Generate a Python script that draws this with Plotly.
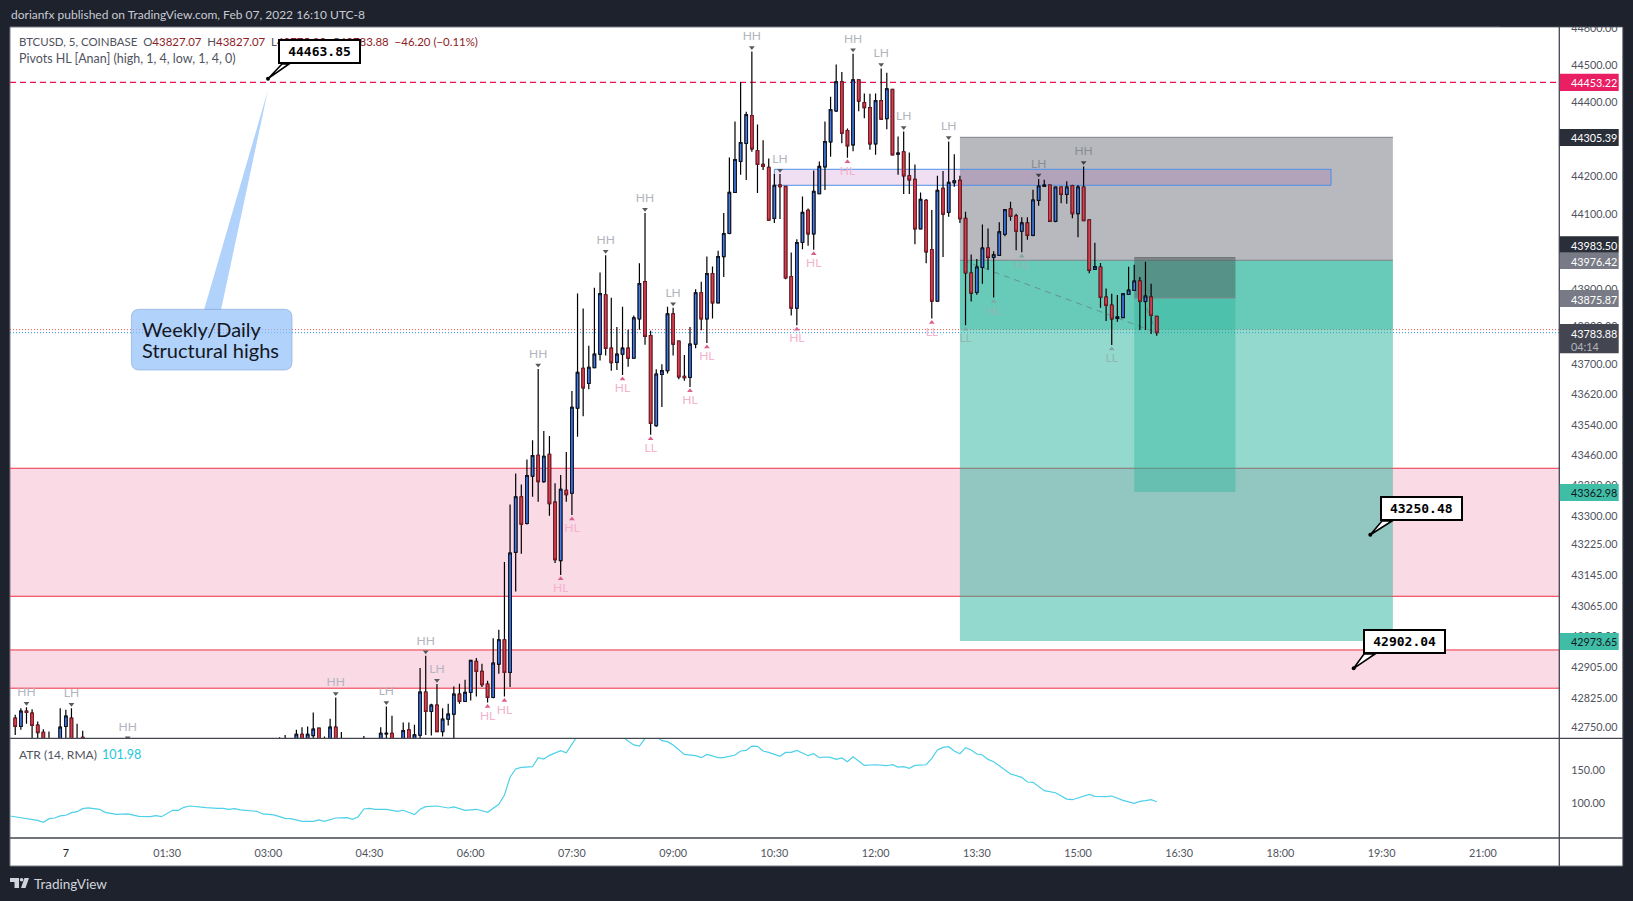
import numpy as np
import pandas as pd
import plotly.graph_objects as go
import plotly.subplots as sp

# ---------------------------------------- data ----------------------------------------
bar_numbers = [-9, -8, -7, -6, -5, -4, -3, -1, 0, 1, 2, 3, 5, 11, 38, 39, 41, 42, 43, 44, 45, 46, 47, 48, 49,
               53, 56, 57, 58, 60, 61, 62] + list(range(63, 195))

open_prices = [42772.8, 42751.2, 42791, 42785.8, 42754.6, 42736.4, 42712, 42700, 42751.2, 42772.8, 42715, 42723.4, 42660, 42680,
    42700, 42700, 42700, 42731.2, 42700, 42727.7, 42746.8, 42715, 42700, 42749.4, 42715, 42715, 42700, 42732, 42733.8, 42700, 42742.5, 42700,
    42728.6, 42840.4, 42790.2, 42806.6, 42738.1, 42770.2, 42783.2, 42835.2, 42816.2, 42839.5, 42920.2, 42894.2, 42861.2, 42826.5, 42913.2, 42976.5, 42891.5, 43205,
    43350.5, 43280.4, 43404.9, 43459.9, 43390.4, 43462.5, 43336.3, 43183.2, 43367.8, 43359.9,
    43584, 43689.3, 43649.2, 43691.1, 43726.8, 43884.7, 43742.9, 43705.4, 43726.8, 43742.9,
    43716.1, 43820.5, 43919.5, 43775.9, 43537.7, 43673.3, 43683.1, 43833.8, 43761.6, 43667.9,
    43665.3, 43753.6, 43890, 43820.5, 43940.9, 43863.3, 43986.4, 44047.9, 44157.6, 44240.6,
    44288.8, 44363.7, 44270, 44232.6, 44224.5, 44088.1, 44177.3, 44173.7, 43932.9, 43849,
    44023.8, 44109.5, 44047, 44154.1, 44226.3, 44293.2, 44376.2, 44454.7, 44323.6, 44285.2,
    44460, 44398.5, 44385.1, 44287.9, 44403.8, 44355.7, 44434.2, 44260.2, 44266.5, 44202.2,
    44192.4, 44060.4, 44136.2, 44005.1, 43867.7, 44168.3, 44104.1, 44183.5, 44189.8, 44088.1,
    43942.5, 43890.9, 43957.6, 44009.2, 43984.3, 43989.7, 44045.8, 44113.4, 44094.7, 44053.8,
    44076, 44043.1, 44136.5, 44173.9, 44177.5, 44080.5, 44172.1, 44152.5, 44175.7, 44100.9,
    44172.1, 44084, 43952.3, 43958.5, 43878.4, 43857.1, 43821.5, 43824.1, 43885.5, 43896.2,
    43921.1, 43866.9, 43878.4, 43827.07]

high_prices = [42781.5, 42798.8, 42801.4, 42796.2, 42764.2, 42744.2, 42738, 42798.8, 42794.5, 42798.8, 42758.1, 42740, 42673, 42712,
    42723.4, 42729.5, 42742.5, 42749.4, 42751.2, 42787.5, 42747.7, 42725.2, 42771, 42826.5, 42737.3, 42726.9, 42749.4, 42803.2, 42778.9, 42761.6, 42761.6, 42755.5,
    42902.8, 42934.9, 42810.1, 42861.2, 42798.8, 42810.1, 42855.1, 42862.1, 42872.5, 42924.5, 42928.8, 42914.1, 42870, 42980.8, 43002.5, 43179.5, 43330.3, 43411.9,
    43383, 43448.5, 43499.7, 43687.7, 43523.9, 43510.7, 43386, 43408, 43468.5, 43629.5,
    43888.3, 43848.1, 43749.1, 43903.4, 43943.6, 43990, 43876.7, 43799, 43852.6, 43791.9,
    43829.4, 43968.5, 44102.3, 43789.2, 43686.7, 43700, 43852.6, 43849.9, 43762.5, 43725,
    43799, 43899, 43919.5, 43986.4, 43959.6, 44001.5, 44102.3, 44251.3, 44347.6, 44453.8,
    44374.4, 44536.7, 44339.6, 44297.7, 44248.6, 44206.7, 44206.7, 44175.5, 43997.1, 44032.8,
    44147, 44114.8, 44216.5, 44240.6, 44347.6, 44414.5, 44501.1, 44481.4, 44328.9, 44530.5,
    44460, 44423.4, 44422.6, 44423.4, 44490.4, 44478.8, 44436, 44307.5, 44320.9, 44264.7,
    44232.6, 44157.6, 44139.8, 44110.4, 44202.2, 44214.7, 44294.1, 44260.2, 44202.2, 44105.9,
    43991.5, 43979.9, 44071.6, 44060.9, 44000.4, 44077.8, 44113.4, 44133, 44100.9, 44091.1,
    44091.1, 44165, 44193.5, 44191.7, 44178.4, 44172.1, 44172.1, 44187.3, 44178.4, 44177.5,
    44227.3, 44084.9, 44023.5, 43969.2, 43901.6, 43887.3, 43883.8, 43889.1, 43959.4, 43964.8,
    43931.8, 43972.8, 43914, 43827.07]

low_prices = [42729.5, 42742.5, 42758.1, 42710, 42705, 42700, 42690, 42690, 42712, 42690, 42690, 42700, 42640, 42670,
    42690, 42690, 42690, 42690, 42690, 42700, 42690, 42690, 42690, 42690, 42690, 42690, 42690, 42690, 42690, 42690, 42690, 42690,
    42715, 42729.5, 42727.7, 42738.1, 42725.2, 42753.8, 42712, 42810.1, 42816.2, 42818.7, 42829.1, 42853.4, 42813.5, 42824.8, 42888.1, 42829.1, 42853.4, 43102.4,
    43201.5, 43277.7, 43350.5, 43337.8, 43387.8, 43301.1, 43177.2, 43145.8, 43337.8, 43302.9,
    43508.3, 43562.7, 43634, 43691.1, 43709.9, 43723.2, 43683.1, 43684.9, 43671.5, 43693.8,
    43716.1, 43791.9, 43751.8, 43513.7, 43535, 43586.8, 43676, 43723.2, 43660.8, 43656.3,
    43640.3, 43742.9, 43790.1, 43756.2, 43821.4, 43861.5, 43932, 44046.1, 44155.9, 44204.9,
    44190.6, 44266.5, 44155.9, 44217.4, 44081.8, 44075.6, 44086.3, 43925.7, 43829.4, 43803.5,
    44006, 44014.9, 44004.2, 44153.2, 44163.9, 44253.1, 44373.5, 44289.7, 44250.4, 44268.2,
    44375.3, 44356.6, 44271.8, 44258.4, 44352.1, 44327.1, 44258.4, 44204.9, 44153.2, 44153.2,
    44019.4, 44060.4, 43968.5, 43821.4, 43867.7, 43985.5, 44092.5, 44172.8, 44075.6, 43803.5,
    43866.9, 43884.7, 43914, 43951.4, 43877.5, 43989.7, 44040.4, 44082.2, 44003, 43997.7,
    44031.5, 44040.4, 44122.3, 44173.9, 44080.5, 44077.8, 44128.5, 44127.6, 44088.5, 44037.7,
    44080.5, 43941.6, 43952.3, 43849.9, 43815.2, 43751.2, 43812.6, 43824.1, 43885.5, 43896.2,
    43791.2, 43791.2, 43780.5, 43775.90]

close_prices = [42751.2, 42791, 42787.5, 42753.8, 42735.5, 42710, 42700, 42749.4, 42778, 42700, 42700, 42714, 42650, 42700,
    42712, 42712, 42731.2, 42700, 42731.2, 42744.2, 42700, 42700, 42749.4, 42700, 42700, 42700, 42733.8, 42733.8, 42700, 42740.7, 42700, 42729.5,
    42840.4, 42790.2, 42806.6, 42738.1, 42770.2, 42783.2, 42835.2, 42816.2, 42839.5, 42922.8, 42894.2, 42859.5, 42826.5, 42915.8, 42976.5, 42891.5, 43203.2, 43350.5,
    43278.6, 43406.6, 43459.1, 43390.4, 43457.2, 43332.6, 43185.8, 43370.4, 43356.2, 43586.4,
    43678.6, 43637.6, 43692, 43726.8, 43887.4, 43742, 43704.5, 43726.8, 43742.9, 43716.1,
    43823.1, 43914.1, 43774.1, 43544, 43674.2, 43683.1, 43833.8, 43753.6, 43667, 43664.4,
    43753.6, 43890, 43820.5, 43940.9, 43863.3, 43986.4, 44047.9, 44157.6, 44245.9, 44291.4,
    44366.4, 44274.5, 44232.6, 44227.2, 44083.6, 44176.4, 44172.8, 43929.3, 43849, 44023.8,
    44104.1, 44047, 44160.3, 44227.2, 44294.1, 44379.8, 44454.7, 44316.4, 44282.5, 44460,
    44402.9, 44385.1, 44287.9, 44403.8, 44353.9, 44436, 44258.4, 44262.9, 44202.2, 44191.5,
    44060.4, 44138.9, 43998.9, 43867.7, 44163, 44099.7, 44184.4, 44188.9, 44087.2, 43942.7,
    43889.1, 43958.5, 44009.2, 43984.3, 43991.5, 44052, 44111.6, 44093.8, 44053.8, 44076,
    44043.1, 44137.4, 44174.8, 44177.5, 44080.5, 44172.1, 44152.5, 44172.1, 44100.9, 44172.1,
    44082.2, 43949.6, 43959.4, 43877.5, 43856.2, 43820.6, 43825.9, 43887.3, 43897.1, 43921.1,
    43866.9, 43881.1, 43829.5, 43783.88]

# pivots: bar number and name, the price comes from the bar itself
pivot_high_bars = [-7, 1, 5, 11, 48, 57, 64, 66, 84, 96, 103, 108, 122, 127, 140, 145, 149, 157, 173, 181]
pivot_high_names = ["HH", "LH", "HH", "HH", "HH", "LH", "HH", "LH", "HH", "HH", "HH", "LH", "HH", "LH", "HH", "LH", "LH", "LH", "LH", "HH"]
pivot_high_dim = [0, 0, 0, 0, 0, 0, 0, 0, 0, 0, 0, 0, 0, 0, 0, 0, 0, 0, 1, 1]
pivot_low_bars = [75, 78, 88, 90, 99, 104, 111, 114, 130, 133, 139, 154, 160, 165, 170, 186]
pivot_low_names = ["HL", "HL", "HL", "HL", "HL", "LL", "HL", "HL", "HL", "HL", "HL", "LL", "LL", "HL", "HL", "LL"]
pivot_low_dim = [0, 0, 0, 0, 0, 0, 0, 0, 0, 0, 0, 0, 1, 1, 1, 1]

atr_bars = [-10, -7, -5, -4, -3, -2, -1, 0, 1, 2, 3, 4, 6, 7, 9, 11, 13, 15, 16, 17, 18, 19, 20, 21, 22, 24, 25, 27, 28, 29,
    30, 31, 34, 35, 37, 39, 40, 42, 44, 45, 46, 48, 50, 51, 52, 53, 54, 55, 57, 59, 60, 62, 63, 64, 66, 68, 69, 71, 73, 75,
    76, 77, 78, 79, 80, 81, 83, 84, 85, 86, 88, 89, 91, 93, 95, 97, 99, 101, 102, 103, 104, 105, 106, 107, 108, 110, 112, 113, 114,
    116, 117, 119, 120, 121, 122, 123, 124, 125, 127, 128, 129, 130, 132, 133, 134, 135, 136, 137, 138, 139, 140, 142, 144,
    146, 147, 148, 149, 150, 151, 153, 154, 155, 156, 157, 158, 159, 160, 161, 162, 163, 164, 165, 166, 168, 170, 171, 172,
    174, 176, 178, 179, 182, 183, 185, 186, 188, 190, 191, 192, 193, 194]
atr_values = [80.4, 75.8, 73.8, 70.8, 76.3, 77.3, 80.4, 81.4, 85.4, 86.9, 91.5, 92.5, 90.5, 85.9, 82.9, 83.4, 79.8, 79.3, 80.9, 79.3,
    84.4, 89, 89, 93.5, 95.5, 93.5, 93, 92, 92, 90.5,
    91.5, 89.5, 87.4, 83.4, 81.9, 76.8, 76.3, 72.3, 72.3, 74.3, 72.3, 77.3, 77.8, 75.3, 79.3, 91, 92, 90.5, 90.5, 87.4,
    89, 82.4, 90.5, 94.5, 95.5, 92.5, 94, 89, 90.5, 86,
    91.5, 98, 112, 139, 151.5, 154, 155, 168.7, 166.6, 172.2, 179.3, 176, 202, 212, 216, 210, 200, 188, 186.3, 198, 206, 201, 194.4, 193, 188, 173.7, 171.7, 168.7, 173.7,
    168.7, 168.7, 172.7, 178.8, 179.8, 186.3, 185.8, 178.8, 176.7, 170.7, 176.7, 176.7, 179.8, 171.7, 174.7, 168.7, 169.7, 169.2, 166.1, 168.2, 162.6, 170.2, 157, 158,
    156.5, 158, 154.5, 155, 152.5, 157, 158, 167.7, 180.3, 184.3, 185.3, 178.8, 174.7, 183.8, 180.3, 174.2, 172.7, 166.1, 162.6, 156.5, 143.9, 138.9, 131.8, 131.3,
    118.7, 115.6, 106, 105, 113.1, 110.1, 109.6, 110.6, 104, 99.5, 102.5, 103.5, 105, 101.98]

price_ticks = [44600, 44500, 44400, 44200, 44100, 43900, 43800, 43700, 43620, 43540, 43460, 43380, 43300,
               43225, 43145, 43065, 42985, 42905, 42825, 42750]
atr_ticks = [100, 150]
time_tick_bars = [0, 18, 36, 54, 72, 90, 108, 126, 144, 162, 180, 198, 216, 234, 252]
time_tick_labels = ["<span style='color:#131722'>7</span>", "01:30", "03:00", "04:30", "06:00", "07:30", "09:00", "10:30", "12:00", "13:30", "15:00",
                    "16:30", "18:00", "19:30", "21:00"]

# levels
alarm_level = 44453.22
last_close_line = 43783.88
prev_close_line = 43792
red_zones = [(43425.6, 43090), (42950, 42850.6)]
blue_box = (44219.6, 44176.8)
tool_one = (44305.39, 43976.42, 42973.65)
tool_two = (43983.50, 43875.87, 43362.98)

W, H = 1633, 901
DARK = "#1e222d"
FONT = "Lato"
SCALE_FONT = dict(family=FONT, size=10.8, color="#50535e")


def fx(px):
    return px / W


def fy(px):
    return 1 - px / H


def bar_time(i):
    return str(pd.Timestamp("2022-02-07") + pd.Timedelta(minutes=5 * i))


times = [bar_time(i) for i in bar_numbers]
o = np.array(open_prices)
c = np.array(close_prices)

fig = sp.make_subplots(rows=2, cols=1, shared_xaxes=True)

# wicks first in black, bodies on top of them so the red ones get their own border
fig.add_trace(go.Candlestick(x=times, open=open_prices, high=high_prices, low=low_prices, close=close_prices,
                             increasing=dict(line=dict(color="#000000", width=1.2), fillcolor="#000000"),
                             decreasing=dict(line=dict(color="#000000", width=1.2), fillcolor="#000000"),
                             whiskerwidth=0, showlegend=False, hoverinfo="skip"), row=1, col=1)
fig.add_trace(go.Candlestick(x=times, open=open_prices, high=np.maximum(o, c), low=np.minimum(o, c), close=close_prices,
                             increasing=dict(line=dict(color="#0b0f1a", width=0.9), fillcolor="#437df0"),
                             decreasing=dict(line=dict(color="#8a1723", width=0.9), fillcolor="#d04556"),
                             whiskerwidth=0, showlegend=False, hoverinfo="skip"), row=1, col=1)

# pivot labels
high_lookup = dict(zip(bar_numbers, high_prices))
low_lookup = dict(zip(bar_numbers, low_prices))
fig.add_trace(go.Scatter(x=[bar_time(i) for i in pivot_high_bars],
                         y=[high_lookup[i] * 1.00024 for i in pivot_high_bars],
                         mode="markers+text", text=pivot_high_names, textposition="top center",
                         textfont=dict(family=FONT, size=12, color=["#8a8d92" if d else "#b2b5be" for d in pivot_high_dim]),
                         marker=dict(symbol="triangle-down", size=5, color=["#3f4145" if d else "#55585f" for d in pivot_high_dim]),
                         showlegend=False, hoverinfo="skip"), row=1, col=1)
fig.add_trace(go.Scatter(x=[bar_time(i) for i in pivot_low_bars],
                         y=[low_lookup[i] * 0.99976 for i in pivot_low_bars],
                         mode="markers+text", text=pivot_low_names, textposition="bottom center",
                         textfont=dict(family=FONT, size=12, color=["#8fb8b2" if d else "#f3b3cc" for d in pivot_low_dim]),
                         marker=dict(symbol="triangle-up", size=5, color=["#7fa8a2" if d else "#dc5f92" for d in pivot_low_dim]),
                         showlegend=False, hoverinfo="skip"), row=1, col=1)

# ATR pane
fig.add_trace(go.Scatter(x=[bar_time(i) for i in atr_bars], y=atr_values, mode="lines",
                         line=dict(color="#4dd0e8", width=1.2), showlegend=False, hoverinfo="skip"), row=2, col=1)

x_range = [bar_time(-9.93), bar_time(265.54)]

fig.update_xaxes(range=x_range, showgrid=False, zeroline=False, showline=False, rangeslider_visible=False, automargin=False)
fig.update_yaxes(automargin=False)
fig.update_layout(
    xaxis=dict(domain=[fx(10), fx(1559)], showticklabels=False, ticks=""),
    xaxis2=dict(domain=[fx(10), fx(1559)], tickmode="array", tickvals=[bar_time(i) for i in time_tick_bars],
                ticktext=time_tick_labels, ticks="outside", ticklen=5, tickcolor="rgba(0,0,0,0)", tickfont=SCALE_FONT),
    yaxis=dict(domain=[fy(738), fy(27)], type="log", side="right", range=[4.630646, 4.649360], tickmode="array",
               tickvals=price_ticks, ticktext=[f"{p:.2f}" for p in price_ticks], showgrid=False, zeroline=False,
               ticks="outside", ticklen=9, tickcolor="rgba(0,0,0,0)", tickfont=SCALE_FONT),
    yaxis2=dict(domain=[fy(838), fy(738)], side="right", range=[47, 198.5], tickmode="array", tickvals=atr_ticks,
                ticktext=[f"{p:.2f}" for p in atr_ticks], showgrid=False, zeroline=False,
                ticks="outside", ticklen=9, tickcolor="rgba(0,0,0,0)", tickfont=SCALE_FONT),
    width=W, height=H, margin=dict(l=0, r=0, t=0, b=0), paper_bgcolor=DARK, plot_bgcolor="rgba(0,0,0,0)",
    font=dict(family=FONT), showlegend=False, boxgap=0.36,
)

shapes = []


def paper_rect(x0, y0, x1, y1, fill, line=None, layer="above"):
    shapes.append(dict(type="rect", xref="paper", yref="paper", x0=fx(x0), x1=fx(x1), y0=fy(y1), y1=fy(y0), fillcolor=fill,
                       line=dict(color=line or fill, width=1 if line else 0), layer=layer))


def paper_line(x0, y0, x1, y1, color, width=1):
    shapes.append(dict(type="line", xref="paper", yref="paper", x0=fx(x0), x1=fx(x1), y0=fy(y0), y1=fy(y1),
                       line=dict(color=color, width=width), layer="above"))


def price_rect(b0, b1, top, bottom, fill, line=None):
    shapes.append(dict(type="rect", xref="x", yref="y", x0=bar_time(b0), x1=bar_time(b1), y0=bottom, y1=top, fillcolor=fill,
                       line=dict(width=0), layer="below"))
    if line:
        for p in (top, bottom):
            shapes.append(dict(type="line", xref="x", yref="y", x0=bar_time(b0), x1=bar_time(b1), y0=p, y1=p,
                               line=dict(color=line, width=1), layer="below"))


def level(p, color, dash, width=1):
    shapes.append(dict(type="line", xref="x domain", yref="y", x0=0, x1=1, y0=p, y1=p,
                       line=dict(color=color, width=width, dash=dash), layer="below"))


def poly(points, fill, line=None, width=1):
    path = "M " + " L ".join(f"{fx(x)},{fy(y)}" for x, y in points) + " Z"
    shapes.append(dict(type="path", xref="paper", yref="paper", path=path, fillcolor=fill,
                       line=dict(color=line or "rgba(0,0,0,0)", width=width), layer="above"))


# white card behind all the panes
paper_rect(10, 27, 1622.7, 866, "#ffffff", "#787b86", layer="below")

# position tools
GRAY_A = "rgba(112,115,125,0.5)"
TEAL_A = "rgba(40,180,155,0.5)"
TEAL_B = "rgba(40,180,155,0.4)"
price_rect(159, 236, tool_one[0], tool_one[1], GRAY_A)
price_rect(159, 236, tool_one[1], tool_one[2], TEAL_A)
price_rect(159, 236, tool_one[1], prev_close_line, TEAL_B)
shapes.append(dict(type="line", xref="x", yref="y", x0=bar_time(159), x1=bar_time(236), y0=tool_one[0], y1=tool_one[0],
                   line=dict(color="#7e8087", width=1), layer="below"))
shapes.append(dict(type="line", xref="x", yref="y", x0=bar_time(159), x1=bar_time(236), y0=tool_one[1], y1=tool_one[1],
                   line=dict(color="#7e8087", width=1), layer="below"))
price_rect(190, 208, tool_two[0], tool_two[1], "rgba(70,90,90,0.5)")
price_rect(190, 208, tool_two[1], tool_two[2], TEAL_B)
shapes.append(dict(type="line", xref="x", yref="y", x0=bar_time(190), x1=bar_time(208), y0=tool_two[0], y1=tool_two[0],
                   line=dict(color="#6b6d72", width=1), layer="below"))
shapes.append(dict(type="line", xref="x", yref="y", x0=bar_time(190), x1=bar_time(208), y0=tool_two[1], y1=tool_two[1],
                   line=dict(color="#7d8c8c", width=1), layer="below"))
shapes.append(dict(type="line", xref="x", yref="y", x0=bar_time(159.5), x1=bar_time(194), y0=tool_one[1], y1=close_prices[-1],
                   line=dict(color="rgba(95,110,115,0.6)", width=1, dash="6px,5px"), layer="below"))
shapes.append(dict(type="line", xref="x", yref="y", x0=bar_time(191.5), x1=bar_time(194), y0=tool_two[1], y1=close_prices[-1],
                   line=dict(color="rgba(95,110,115,0.6)", width=1, dash="6px,5px"), layer="below"))

# supply zones, across the whole pane
for top, bottom in red_zones:
    shapes.append(dict(type="rect", xref="x domain", yref="y", x0=0, x1=1, y0=bottom, y1=top,
                       fillcolor="rgba(231,79,131,0.21)", line=dict(width=0), layer="below"))
    for p in (top, bottom):
        level(p, "#f03040", "solid")

price_rect(126, 225, blue_box[0], blue_box[1], "rgba(156,39,176,0.15)", "#4d8fe8")
shapes.append(dict(type="line", xref="x", yref="y", x0=bar_time(126), x1=bar_time(126), y0=blue_box[1], y1=blue_box[0],
                   line=dict(color="#4d8fe8", width=1), layer="below"))
shapes.append(dict(type="line", xref="x", yref="y", x0=bar_time(225), x1=bar_time(225), y0=blue_box[1], y1=blue_box[0],
                   line=dict(color="#4d8fe8", width=1), layer="below"))

level(alarm_level, "#e8114f", "6px,4px", 1.2)
level(prev_close_line, "#ef5350", "1px,2px")
level(last_close_line, "#2196f3", "1px,2px")

# pane separators and the price scale
paper_line(10, 738.3, 1622.7, 738.3, "#434651", 1.3)
paper_line(10, 838, 1622.7, 838, "#434651", 1.3)
paper_line(1559.3, 27, 1559.3, 866, "#434651", 1.3)
paper_rect(1500, 0, 1633, 26.5, DARK)

# callout with tail
poly([(268, 90), (204, 310), (221, 310)], "rgba(144,191,249,0.7)")
rx0, ry0, rx1, ry1, r = 131.4, 309.3, 292, 370, 8
round_path = (f"M {fx(rx0 + r)},{fy(ry0)} L {fx(rx1 - r)},{fy(ry0)} Q {fx(rx1)},{fy(ry0)} {fx(rx1)},{fy(ry0 + r)} "
              f"L {fx(rx1)},{fy(ry1 - r)} Q {fx(rx1)},{fy(ry1)} {fx(rx1 - r)},{fy(ry1)} L {fx(rx0 + r)},{fy(ry1)} "
              f"Q {fx(rx0)},{fy(ry1)} {fx(rx0)},{fy(ry1 - r)} L {fx(rx0)},{fy(ry0 + r)} Q {fx(rx0)},{fy(ry0)} {fx(rx0 + r)},{fy(ry0)} Z")
shapes.append(dict(type="path", xref="paper", yref="paper", path=round_path, fillcolor="rgba(144,191,249,0.7)",
                   line=dict(color="rgba(130,165,215,0.6)", width=1), layer="above"))

# tails of the three price bubbles
for dot_x, dot_y, base0, base1, base_y in [(268, 78.7, 282, 289, 64), (1370.3, 534.7, 1382, 1392, 521), (1353.7, 668.3, 1364, 1375, 654)]:
    poly([(dot_x, dot_y), (base0, base_y), (base1, base_y)], "#ffffff", "#000000", 1.6)
    shapes.append(dict(type="circle", xref="paper", yref="paper", x0=fx(dot_x - 2), x1=fx(dot_x + 2), y0=fy(dot_y + 2), y1=fy(dot_y - 2),
                       fillcolor="#000000", line=dict(width=0), layer="above"))

# price tags on the scale
tags = [(73.8, 91, "#e91e63"), (129, 146, "#2a2e39"), (236.3, 252.8, "#2a2e39"), (253, 269, "#787b86"), (290, 307, "#787b86"),
        (324, 353.3, "#434651"), (484, 501, "#40bda6"), (633, 650, "#40bda6")]
for y0, y1, color in tags:
    paper_rect(1559.8, y0, 1618.7, y1, color)

# TradingView logo
poly([(10, 878), (19, 878), (19, 888), (14.5, 888), (14.5, 882), (10, 882)], "#d1d4dc")
poly([(24.5, 878), (29, 878), (25.5, 888), (21, 888)], "#d1d4dc")
shapes.append(dict(type="circle", xref="paper", yref="paper", x0=fx(19.8), x1=fx(23.4), y0=fy(881.6), y1=fy(878),
                   fillcolor="#d1d4dc", line=dict(width=0), layer="above"))

fig.update_layout(shapes=shapes)


def note(text, x, y, size=12, color="#50535e", anchor="left"):
    fig.add_annotation(text=text, xref="paper", yref="paper", x=fx(x), y=fy(y), xanchor=anchor, yanchor="middle",
                       showarrow=False, align="left", font=dict(family=FONT, size=size, color=color))


RED = "#8c1c25"
note("dorianfx published on TradingView.com, Feb 07, 2022 16:10 UTC-8", 9, 15, color="#c8cbd3")
note(f"BTCUSD, 5, COINBASE  O<span style='color:{RED}'>43827.07</span>  H<span style='color:{RED}'>43827.07</span>  "
     f"L<span style='color:{RED}'>43775.90</span>  C<span style='color:{RED}'>43783.88</span>  "
     f"<span style='color:{RED}'>−46.20 (−0.11%)</span>", 16.5, 41.7, size=11.45)
note("Pivots HL [Anan] (high, 1, 4, low, 1, 4, 0)", 16.5, 58.7, size=12.5)
note("ATR (14, RMA)", 16.5, 754)
note("101.98", 99.5, 754, color="#26c6da", size=12.5)
note("TradingView", 31.5, 884, size=13.5, color="#d1d4dc")
note("Weekly/Daily", 140, 329, size=20, color="#131722")
note("Structural highs", 140, 349.5, size=20, color="#131722")

# bubbles go after the header so they cover it, like in the picture
for text, x0, y0, x1, y1 in [("44463.85", 278, 39.3, 361, 64), ("43250.48", 1380, 496, 1462.7, 521), ("42902.04", 1362.7, 629.3, 1446, 654)]:
    fig.add_annotation(text=f"<b>{text}</b>", xref="paper", yref="paper", x=fx((x0 + x1) / 2), y=fy((y0 + y1) / 2),
                       showarrow=False, bgcolor="#ffffff", bordercolor="#000000", borderwidth=2, borderpad=0,
                       width=x1 - x0 - 4, height=y1 - y0 - 4, xanchor="center", yanchor="middle",
                       font=dict(family="DejaVu Sans Mono", size=13, color="#000000"))

# labels on the tags
for text, y, color in [("44453.22", 82.3, "#ffffff"), ("44305.39", 137.7, "#ffffff"), ("43983.50", 245, "#ffffff"),
                       ("43976.42", 261, "#ffffff"), ("43875.87", 299, "#ffffff"), ("43783.88", 333, "#ffffff"),
                       ("04:14", 346.3, "#b2b5be"), ("43362.98", 492.7, "#131722"), ("42973.65", 641.7, "#131722")]:
    note(text, 1569, y, size=10.8, color=color)

fig.write_html("out.html", config={"displayModeBar": False},
               post_script=f"document.body.style.margin='0';document.body.style.background='{DARK}';")
